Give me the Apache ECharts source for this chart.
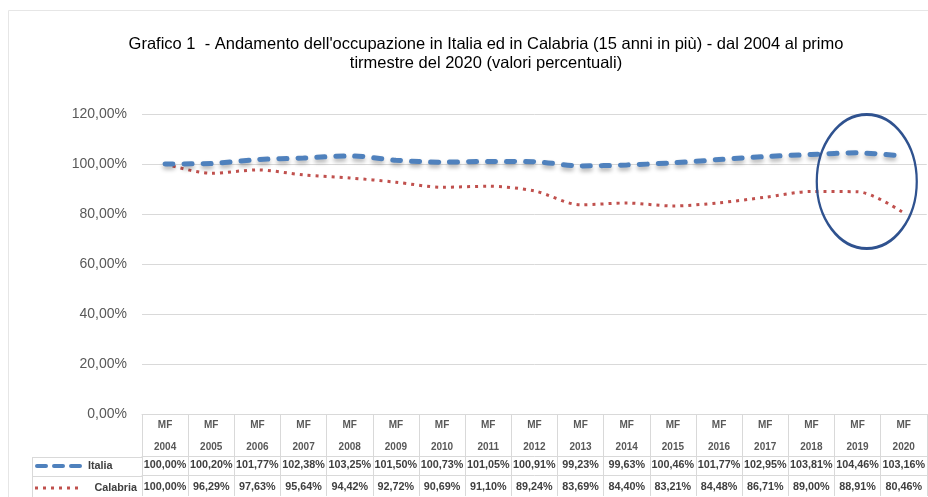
<!DOCTYPE html>
<html>
<head>
<meta charset="utf-8">
<script src="https://cdn.jsdelivr.net/npm/echarts@6/dist/echarts.min.js"></script>
<style>
  html, body { margin: 0; padding: 0; background: #fff; }
  #chart { width: 928px; height: 497px; }
</style>
</head>
<body>
<div id="chart"></div>
<script>
  var anni = ['2004', '2005', '2006', '2007', '2008', '2009', '2010', '2011', '2012',
    '2013', '2014', '2015', '2016', '2017', '2018', '2019', '2020']
  var italia = [100.00, 100.20, 101.77, 102.38, 103.25, 101.50, 100.73, 101.05, 100.91,
    99.23, 99.63, 100.46, 101.77, 102.95, 103.81, 104.46, 103.16]
  var calabria = [100.00, 96.29, 97.63, 95.64, 94.42, 92.72, 90.69, 91.10, 89.24,
    83.69, 84.40, 83.21, 84.48, 86.71, 89.00, 88.91, 80.46]
  var yTicks = { min: 0, max: 120, interval: 20 }

  var fontFam = '"Liberation Sans", Arial, sans-serif'
  var gridCol = '#d9d9d9'
  var txtCol = '#404040'
  var blu = '#4f81bd'
  var rosso = '#c0504d'
  var dashItalia = [8, 11]
  var dashCalabria = [3, 5]

  function pct (v) {
    return v.toFixed(2).replace('.', ',') + '%'
  }

  var headText = { fontFamily: fontFam, fontSize: 10, fontWeight: 'bold', color: '#595959' }
  var cellText = { fontFamily: fontFam, fontSize: 10.8, fontWeight: 'bold', color: txtCol }

  function tableAxis (labels, offset, tickLen, lineHeight, margin, style) {
    return {
      type: 'category',
      position: 'bottom',
      offset: offset,
      data: labels,
      boundaryGap: true,
      axisLine: { show: true, lineStyle: { color: gridCol, width: 1 } },
      axisTick: { show: true, interval: 0, length: tickLen, inside: false,
        lineStyle: { color: gridCol, width: 1 } },
      axisLabel: Object.assign({ interval: 0, margin: margin, lineHeight: lineHeight }, style),
      splitLine: { show: false }
    }
  }

  var chart = echarts.init(document.getElementById('chart'))

  var option = {
    animation: false,
    backgroundColor: '#ffffff',
    title: {
      text: "Grafico 1  - Andamento dell'occupazione in Italia ed in Calabria (15 anni in più) - dal 2004 al primo\ntirmestre del 2020 (valori percentuali)",
      left: 481,
      top: 30,
      textAlign: 'center',
      textStyle: {
        fontFamily: fontFam,
        fontSize: 16.5,
        fontWeight: 'normal',
        color: '#000000',
        lineHeight: 19
      }
    },
    grid: { left: 142, right: 1, top: 114, bottom: 82 },
    xAxis: [
      tableAxis(anni.map(function (a) { return 'MF\n' + a }), 0, 42, 22, 0, headText),
      tableAxis(italia.map(pct), 42, 19, 19, 0, cellText),
      tableAxis(calabria.map(pct), 61, 21, 20, 2, cellText)
    ],
    yAxis: {
      type: 'value',
      min: yTicks.min,
      max: yTicks.max,
      interval: yTicks.interval,
      axisLine: { show: false },
      axisTick: { show: false },
      splitLine: { lineStyle: { color: gridCol, width: 1 } },
      axisLabel: {
        margin: 15,
        fontFamily: fontFam,
        fontSize: 14,
        color: '#595959',
        formatter: function (v) { return pct(v) }
      }
    },
    series: [
      {
        name: 'Italia',
        type: 'line',
        xAxisIndex: 0,
        data: italia,
        smooth: 0.3,
        symbol: 'none',
        lineStyle: {
          color: blu,
          width: 5,
          type: dashItalia,
          cap: 'round',
          shadowColor: 'rgba(0,0,0,0.3)',
          shadowBlur: 4,
          shadowOffsetY: 3
        },
        z: 3
      },
      {
        name: 'Calabria',
        type: 'line',
        xAxisIndex: 0,
        data: calabria,
        smooth: 0.3,
        symbol: 'none',
        lineStyle: {
          color: rosso,
          width: 3,
          type: dashCalabria
        },
        z: 2
      }
    ]
  }

  chart.setOption(option)

  // ellisse di evidenziazione sugli ultimi anni, posizionata in coordinate dati
  var p15 = chart.convertToPixel({ xAxisIndex: 0, yAxisIndex: 0 }, [15, 93])
  var p16 = chart.convertToPixel({ xAxisIndex: 0, yAxisIndex: 0 }, [16, 93])
  var cx = p15[0] + 0.2 * (p16[0] - p15[0])
  var cy = p15[1]

  function bordo (x1, y1, x2, y2) {
    return { type: 'line', silent: true, shape: { x1: x1, y1: y1, x2: x2, y2: y2 },
      style: { stroke: gridCol, lineWidth: 1 } }
  }

  chart.setOption({
    graphic: [
      // bordo dell'area grafico
      { type: 'rect', silent: true, shape: { x: 8.5, y: 10.5, width: 940, height: 500 },
        style: { fill: 'none', stroke: '#e6e6e6', lineWidth: 1 } },
      // celle della legenda nella tabella
      bordo(32, 457.5, 142, 457.5),
      bordo(32, 476.5, 142, 476.5),
      bordo(32.5, 457, 32.5, 497),
      // chiavi di legenda
      { type: 'line', silent: true, shape: { x1: 37, y1: 466, x2: 80, y2: 466 },
        style: { stroke: blu, lineWidth: 4, lineDash: [9, 8], lineCap: 'round' } },
      { type: 'text', silent: true, x: 88, y: 466,
        style: { text: 'Italia', textVerticalAlign: 'middle',
          font: 'bold 10.8px ' + fontFam, fill: txtCol } },
      { type: 'line', silent: true, shape: { x1: 35, y1: 488, x2: 82, y2: 488 },
        style: { stroke: rosso, lineWidth: 3, lineDash: dashCalabria } },
      { type: 'text', silent: true, x: 137, y: 488,
        style: { text: 'Calabria', textAlign: 'right', textVerticalAlign: 'middle',
          font: 'bold 10.8px ' + fontFam, fill: txtCol } },
      {
        type: 'circle',
        silent: true,
        x: cx,
        y: cy,
        scaleX: 50 / 67,
        shape: { cx: 0, cy: 0, r: 67 },
        style: { fill: 'none', stroke: '#2f528f', lineWidth: 3, strokeNoScale: true },
        z: 100
      }
    ]
  })
</script>
</body>
</html>
